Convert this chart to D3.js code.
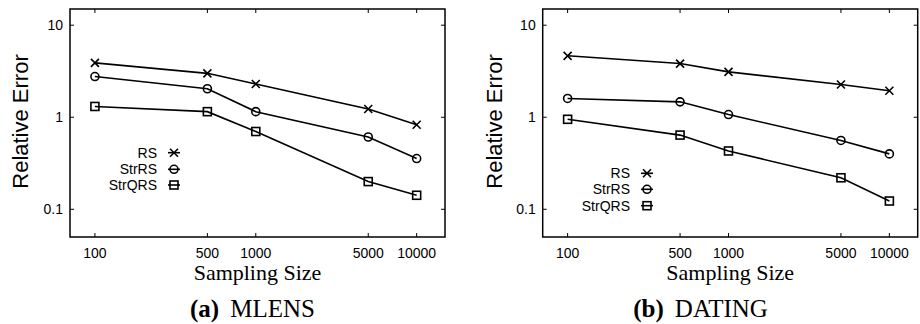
<!DOCTYPE html>
<html>
<head>
<meta charset="utf-8">
<script src="https://cdn.jsdelivr.net/npm/d3@7/dist/d3.min.js"></script>
<style>
  html, body { margin: 0; padding: 0; background: #fff; }
  svg { display: block; }
</style>
</head>
<body>
<svg id="chart" width="920" height="324"></svg>
<script>
// ---- data ----
const sizes = [100, 500, 1000, 5000, 10000];
const xTickLabels = ["100", "500", "1000", "5000", "10000"];
const yTicks = [0.1, 1, 10];
const yTickLabels = ["0.1", "1", "10"];
const seriesNames = ["RS", "StrRS", "StrQRS"];

const mlensRS     = [3.9, 3.0, 2.3, 1.23, 0.83];
const mlensStrRS  = [2.77, 2.04, 1.15, 0.61, 0.356];
const mlensStrQRS = [1.31, 1.15, 0.70, 0.20, 0.142];

const datingRS     = [4.65, 3.83, 3.11, 2.27, 1.94];
const datingStrRS  = [1.6, 1.47, 1.07, 0.56, 0.40];
const datingStrQRS = [0.95, 0.64, 0.43, 0.22, 0.123];

const captions = [["(a)", "MLENS"], ["(b)", "DATING"]];

// ---- drawing ----
const svg = d3.select("#chart");
const SANS = "'Liberation Sans', Arial, Helvetica, sans-serif";
const SERIF = "'Liberation Serif', 'Times New Roman', serif";

function marker(g, type, cx, cy) {
  const s = 4;
  if (type === 0) {
    g.append("path").attr("d", `M${cx-s},${cy-s}L${cx+s},${cy+s}M${cx-s},${cy+s}L${cx+s},${cy-s}`)
      .attr("stroke", "#000").attr("stroke-width", 1.6).attr("fill", "none");
  } else if (type === 1) {
    g.append("circle").attr("cx", cx).attr("cy", cy).attr("r", s)
      .attr("stroke", "#000").attr("stroke-width", 1.6).attr("fill", "none");
  } else {
    g.append("rect").attr("x", cx - s).attr("y", cy - s).attr("width", 2*s).attr("height", 2*s)
      .attr("stroke", "#000").attr("stroke-width", 1.6).attr("fill", "none");
  }
}

function panel(opt) {
  const g = svg.append("g");
  const x = d3.scaleLog().domain([70, 15000]).range([opt.x0, opt.x1]);
  const y = d3.scaleLog().domain([0.05, 15]).range([237, 9]);
  const [x0, x1] = x.range();
  const [yb, yt] = y.range();
  const tl = 4;

  // ticks (mirrored, inward)
  sizes.forEach((v, i) => {
    const px = x(v);
    g.append("line").attr("x1", px).attr("x2", px).attr("y1", yb).attr("y2", yb - tl).attr("stroke", "#000").attr("stroke-width", 1);
    g.append("line").attr("x1", px).attr("x2", px).attr("y1", yt).attr("y2", yt + tl).attr("stroke", "#000").attr("stroke-width", 1);
    g.append("text").attr("x", px).attr("y", 258).attr("text-anchor", "middle")
      .attr("font-family", SANS).attr("font-size", 14).text(xTickLabels[i]);
  });
  yTicks.forEach((v, i) => {
    const py = y(v);
    g.append("line").attr("x1", x0).attr("x2", x0 + tl).attr("y1", py).attr("y2", py).attr("stroke", "#000").attr("stroke-width", 1);
    g.append("line").attr("x1", x1).attr("x2", x1 - tl).attr("y1", py).attr("y2", py).attr("stroke", "#000").attr("stroke-width", 1);
    g.append("text").attr("x", x0 - 7).attr("y", py + 5).attr("text-anchor", "end")
      .attr("font-family", SANS).attr("font-size", 14).text(yTickLabels[i]);
  });

  // frame
  g.append("rect").attr("x", x0).attr("y", yt).attr("width", x1 - x0).attr("height", yb - yt)
    .attr("fill", "none").attr("stroke", "#000").attr("stroke-width", 1.5);

  // series
  const line = d3.line().x((d, i) => x(sizes[i])).y(d => y(d));
  opt.series.forEach((vals, k) => {
    g.append("path").datum(vals).attr("d", line)
      .attr("fill", "none").attr("stroke", "#000").attr("stroke-width", 1.6);
    vals.forEach((v, i) => marker(g, k, x(sizes[i]), y(v)));
  });

  // legend
  seriesNames.forEach((name, k) => {
    const ly = opt.legY[k];
    g.append("text").attr("x", opt.legX).attr("y", ly + 5).attr("text-anchor", "end")
      .attr("font-family", SANS).attr("font-size", 14).text(name);
    const mx = opt.legX + 17;
    g.append("line").attr("x1", mx - 6).attr("x2", mx + 6).attr("y1", ly).attr("y2", ly)
      .attr("stroke", "#000").attr("stroke-width", 1.6);
    marker(g, k, mx, ly);
  });

  // y label
  g.append("text").attr("transform", `translate(${opt.yLabX},121.5) rotate(-90)`)
    .attr("text-anchor", "middle").attr("font-family", SANS).attr("font-size", 22).text("Relative Error");

  // x label
  g.append("text").attr("x", (x0 + x1) / 2).attr("y", 279.5).attr("text-anchor", "middle")
    .attr("font-family", SERIF).attr("font-size", 22).text("Sampling Size");

  // caption
  const cap = g.append("text").attr("x", opt.capX).attr("y", 317)
    .attr("font-family", SERIF).attr("font-size", 25);
  cap.append("tspan").attr("font-weight", "bold").text(opt.caption[0]);
  cap.append("tspan").attr("dx", 11).text(opt.caption[1]);
}

panel({ x0: 70, x1: 445, series: [mlensRS, mlensStrRS, mlensStrQRS],
        legX: 157, legY: [152.7, 169.3, 185], yLabX: 28, capX: 190, caption: captions[0] });
panel({ x0: 542.7, x1: 917.7, series: [datingRS, datingStrRS, datingStrQRS],
        legX: 630, legY: [173.3, 189.3, 205.7], yLabX: 501.5, capX: 633.3, caption: captions[1] });
</script>
</body>
</html>
